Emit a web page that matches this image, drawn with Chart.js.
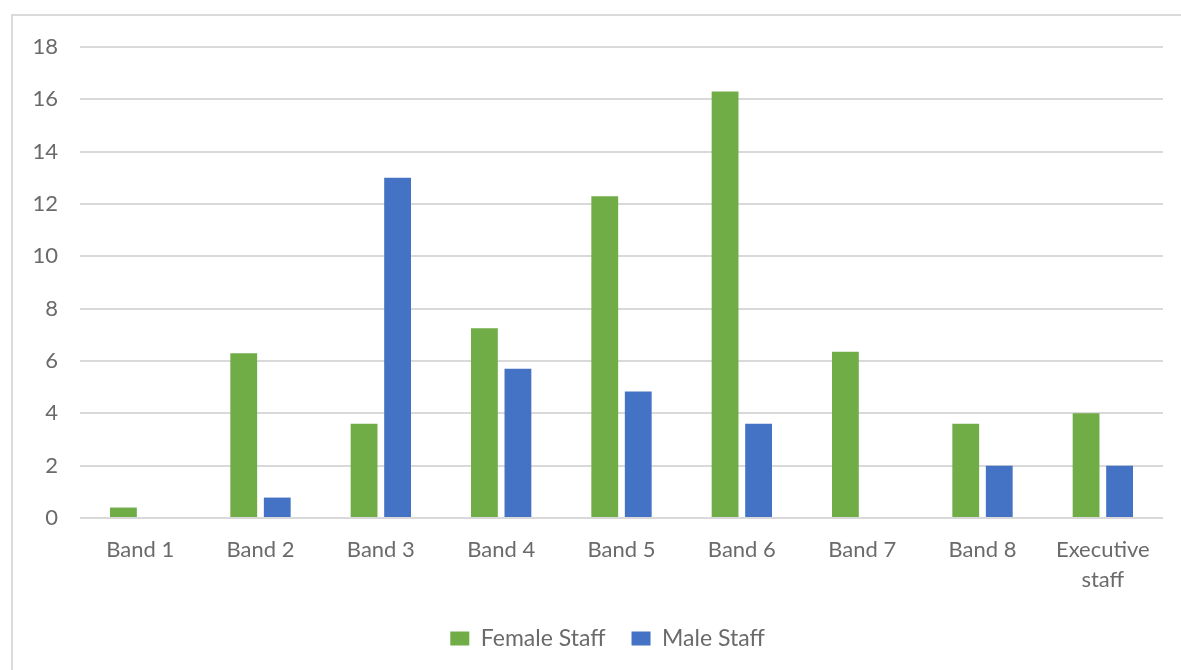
<!DOCTYPE html>
<html>
<head>
<meta charset="utf-8">
<script src="https://cdn.jsdelivr.net/npm/chart.js@4/dist/chart.umd.min.js"></script>
<style>
  html, body { margin: 0; padding: 0; background: #ffffff; overflow: hidden; }
  #frame { position: absolute; left: 11px; top: 14px; width: 1200px; height: 700px; border: 2px solid #dadada; box-sizing: border-box; }
  #wrap { position: absolute; left: 0; top: 0; width: 1181px; height: 670px; }
</style>
</head>
<body>
<div id="frame"></div>
<div id="wrap"><canvas id="c" width="1181" height="670"></canvas></div>
<script>
const categories = ['Band 1', 'Band 2', 'Band 3', 'Band 4', 'Band 5', 'Band 6', 'Band 7', 'Band 8', ['Executive', 'staff']];
const femaleStaff = [0.4, 6.3, 3.6, 7.25, 12.3, 16.3, 6.35, 3.6, 4.0];
const maleStaff = [0, 0.78, 13.0, 5.7, 4.83, 3.6, 0, 2.0, 2.0];
const yTicks = [0, 2, 4, 6, 8, 10, 12, 14, 16, 18];

const FONT = 'Lato, "Open Sans", sans-serif';
const TXT = '#6a6a6a';

const legendShift = {
  id: 'legendShift',
  afterLayout(chart) {
    if (chart.legend) { chart.legend.left += 20; chart.legend.right += 20; }
  }
};

new Chart(document.getElementById('c'), {
  type: 'bar',
  data: {
    labels: categories,
    datasets: [
      { label: 'Female Staff', data: femaleStaff, backgroundColor: '#70ad47', barPercentage: 0.8, categoryPercentage: 0.557 },
      { label: 'Male Staff', data: maleStaff, backgroundColor: '#4472c4', barPercentage: 0.8, categoryPercentage: 0.557 }
    ]
  },
  plugins: [legendShift],
  options: {
    responsive: false,
    animation: false,
    layout: { padding: { left: 12, right: 18, top: 47, bottom: 10 } },
    plugins: {
      legend: {
        position: 'bottom',
        labels: { boxWidth: 19, boxHeight: 14, color: TXT, font: { family: FONT, size: 23 }, padding: 26 }
      },
      tooltip: { enabled: false }
    },
    scales: {
      y: {
        min: 0, max: 18,
        afterBuildTicks: (s) => { s.ticks = yTicks.map(v => ({ value: v })); },
        afterFit: (s) => { s.width = 68; },
        border: { display: false },
        grid: { color: '#d9d9d9', lineWidth: 2, drawTicks: false },
        ticks: { color: TXT, font: { family: FONT, size: 22 }, padding: 22 }
      },
      x: {
        afterFit: (s) => { s.height = 83; },
        border: { display: false },
        grid: { display: false, drawTicks: false },
        ticks: { color: TXT, font: { family: FONT, size: 22, lineHeight: 1.35 }, padding: 17, maxRotation: 0, autoSkip: false }
      }
    }
  }
});
</script>
</body>
</html>
